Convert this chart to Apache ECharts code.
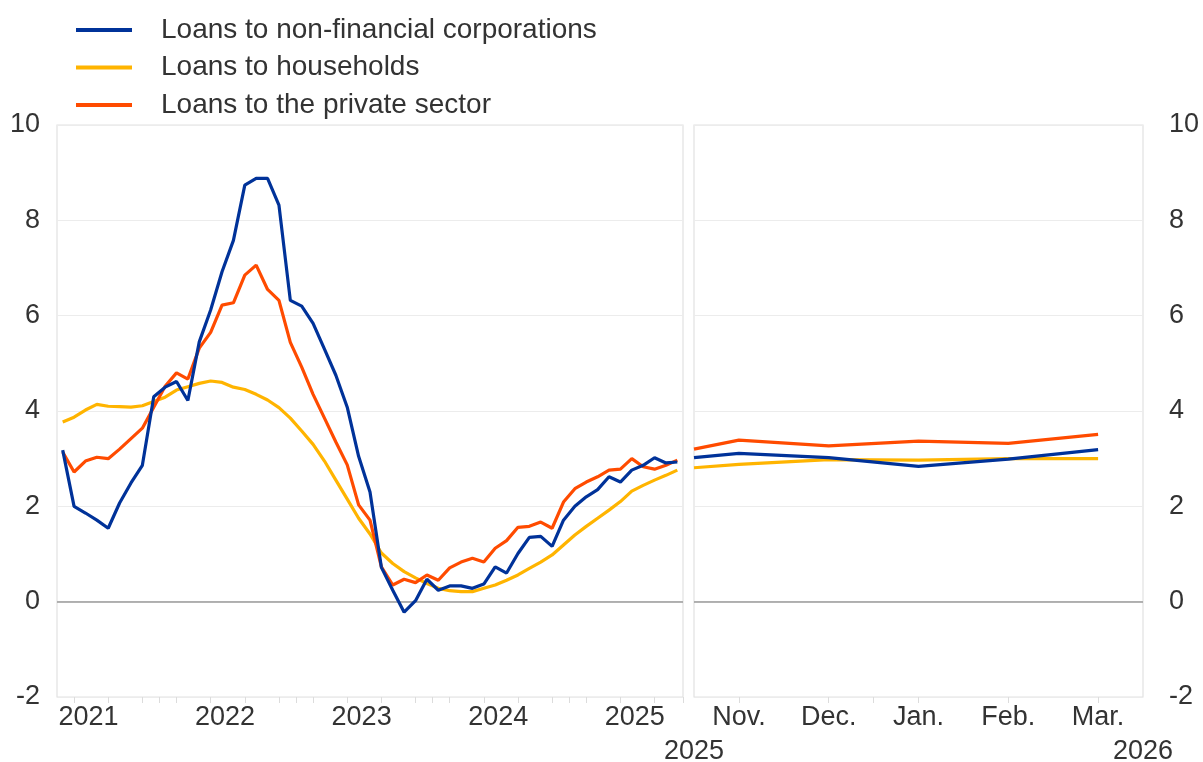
<!DOCTYPE html>
<html>
<head>
<meta charset="utf-8">
<script src="https://cdn.jsdelivr.net/npm/echarts@6/dist/echarts.min.js"></script>
<style>
  html, body { margin: 0; padding: 0; background: #fff; }
  #chart { width: 1203px; height: 762px; }
</style>
</head>
<body>
<div id="chart"></div>
<script>
// ---------- data ----------
const seriesNames = ['Loans to non-financial corporations', 'Loans to households', 'Loans to the private sector'];

// Left panel: monthly, Apr 2021 – Oct 2025
const leftMonths = [
  '2021-04','2021-05','2021-06','2021-07','2021-08','2021-09','2021-10','2021-11','2021-12',
  '2022-01','2022-02','2022-03','2022-04','2022-05','2022-06','2022-07','2022-08','2022-09','2022-10','2022-11','2022-12',
  '2023-01','2023-02','2023-03','2023-04','2023-05','2023-06','2023-07','2023-08','2023-09','2023-10','2023-11','2023-12',
  '2024-01','2024-02','2024-03','2024-04','2024-05','2024-06','2024-07','2024-08','2024-09','2024-10','2024-11','2024-12',
  '2025-01','2025-02','2025-03','2025-04','2025-05','2025-06','2025-07','2025-08','2025-09','2025-10'
];

const nfcLeft = [
  3.18, 2.00, 1.86, 1.71, 1.54, 2.07, 2.49, 2.86, 4.30,
  4.50, 4.62, 4.22, 5.45, 6.12, 6.92, 7.58, 8.74, 8.88, 8.88, 8.32, 6.32,
  6.20, 5.84, 5.30, 4.75, 4.08, 3.05, 2.30, 0.72, 0.24, -0.22, 0.02, 0.47,
  0.24, 0.33, 0.33, 0.28, 0.37, 0.73, 0.60, 1.01, 1.35, 1.37, 1.16, 1.71,
  2.00, 2.20, 2.35, 2.62, 2.51, 2.76, 2.86, 3.02, 2.91, 2.93
];
const hhLeft = [
  3.77, 3.87, 4.02, 4.14, 4.10, 4.09, 4.08, 4.11, 4.20,
  4.29, 4.44, 4.51, 4.58, 4.63, 4.60, 4.50, 4.45, 4.35, 4.23, 4.07, 3.85,
  3.58, 3.30, 2.95, 2.55, 2.15, 1.75, 1.42, 1.02, 0.80, 0.63, 0.50, 0.38,
  0.28, 0.23, 0.21, 0.21, 0.28, 0.35, 0.45, 0.56, 0.70, 0.83, 0.98, 1.19,
  1.40, 1.58, 1.75, 1.92, 2.10, 2.32, 2.44, 2.55, 2.65, 2.76
];
const pslLeft = [
  3.14, 2.72, 2.95, 3.03, 3.00, 3.20, 3.42, 3.64, 4.08,
  4.52, 4.80, 4.67, 5.32, 5.65, 6.22, 6.27, 6.85, 7.06, 6.55, 6.32, 5.44,
  4.92, 4.35, 3.85, 3.35, 2.87, 2.03, 1.71, 0.73, 0.35, 0.47, 0.40, 0.56,
  0.45, 0.71, 0.83, 0.91, 0.83, 1.12, 1.28, 1.56, 1.58, 1.67, 1.54, 2.09,
  2.37, 2.51, 2.62, 2.76, 2.78, 3.00, 2.83, 2.78, 2.86, 2.97
];

// Right panel: Oct 2025 (start) then Nov 2025 – Mar 2026
const rightMonths = ['Oct.', 'Nov.', 'Dec.', 'Jan.', 'Feb.', 'Mar.'];
const rightYears = ['2025', '2026'];
const nfcRight = [3.02, 3.11, 3.02, 2.84, 2.99, 3.19];
const hhRight  = [2.81, 2.88, 2.98, 2.97, 3.00, 3.00];
const pslRight = [3.20, 3.39, 3.27, 3.37, 3.32, 3.51];

const yTicks = { min: -2, max: 10, interval: 2 };

// ---------- helpers ----------
// Right panel uses half-month slots: slot 0 = start point at left edge, months at odd slots
const rightSlots = ['start'];
rightMonths.slice(1).forEach((m, i) => { rightSlots.push(m); rightSlots.push(i < rightMonths.length - 2 ? 'mid' + i : 'end'); });
function toSlots(vals) {
  const out = [vals[0]];
  vals.slice(1).forEach(v => { out.push(v); out.push(null); });
  return out;
}
const lastSlot = rightSlots.length - 1;
// mid slot between Dec. and Jan. is the year boundary
const yearBoundarySlot = rightSlots.indexOf('Jan.') - 1;

const colors = ['#003299', '#ffb400', '#ff4b00'];
const FONT = 'Liberation Sans, Arial, Helvetica, sans-serif';
const TXT = '#333';
const FS = 27;

const chart = echarts.init(document.getElementById('chart'), null, { renderer: 'canvas' });

function lineSeries(name, data, xi, yi, color, z) {
  return {
    name, type: 'line', data, xAxisIndex: xi, yAxisIndex: yi,
    symbol: 'none', connectNulls: true, z,
    lineStyle: { color, width: 3.2 }, itemStyle: { color },
    emphasis: { disabled: true }, animation: false
  };
}
function zeroLine(xi, yi) {
  return {
    type: 'line', data: [], xAxisIndex: xi, yAxisIndex: yi, z: 1,
    markLine: {
      silent: true, symbol: 'none', animation: false,
      label: { show: false },
      lineStyle: { color: '#9a9a9a', width: 1.5, type: 'solid' },
      data: [{ yAxis: 0 }]
    }
  };
}

const yCommon = {
  type: 'value', min: yTicks.min, max: yTicks.max, interval: yTicks.interval,
  axisLine: { show: false }, axisTick: { show: false },
  splitLine: { show: true, lineStyle: { color: '#ececec', width: 1.2 } },
  axisLabel: { color: TXT, fontSize: FS, fontFamily: FONT }
};

const option = {
  backgroundColor: '#fff',
  animation: false,
  color: colors,
  legend: {
    data: seriesNames,
    orient: 'vertical', left: 71, top: 10,
    itemWidth: 56, itemHeight: 4, itemGap: 7.5,
    icon: 'rect',
    textStyle: { color: TXT, fontSize: 28, fontFamily: FONT, lineHeight: 30, padding: [0, 0, 0, 24] },
    selectedMode: false
  },
  grid: [
    { left: 57, right: 520, top: 125, bottom: 65, show: true, borderColor: '#e2e2e2', borderWidth: 1.2,
      containLabel: false, outerBoundsMode: 'none' },
    { left: 694, right: 60, top: 125, bottom: 65, show: true, borderColor: '#e2e2e2', borderWidth: 1.2,
      containLabel: false, outerBoundsMode: 'none' }
  ],
  xAxis: [
    {
      type: 'category', gridIndex: 0, data: leftMonths, boundaryGap: true, position: 'bottom',
      axisLine: { show: false, onZero: false },
      axisTick: { show: true, alignWithLabel: true, length: 6, lineStyle: { color: '#dcdcdc' },
        interval: (i, v) => ['02', '05', '08', '11'].includes(v.slice(5)) },
      axisLabel: { color: TXT, fontSize: FS, fontFamily: FONT, margin: 7, padding: [0, 0, 0, 6],
        interval: (i, v) => v.slice(5) === '06', formatter: v => v.slice(0, 4) }
    },
    {
      type: 'category', gridIndex: 0, data: leftMonths, boundaryGap: true, position: 'bottom', offset: 0,
      axisLine: { show: false, onZero: false },
      axisTick: { show: true, alignWithLabel: false, length: 6, lineStyle: { color: '#dcdcdc' },
        interval: (i, v) => v.slice(5) === '01' },
      axisLabel: { show: false }, splitLine: { show: false }
    },
    {
      type: 'category', gridIndex: 1, data: rightSlots, boundaryGap: false, position: 'bottom',
      axisLine: { show: false, onZero: false },
      axisTick: { show: true, length: 6, lineStyle: { color: '#dcdcdc' },
        interval: (i) => i % 2 === 1 || i === yearBoundarySlot },
      axisLabel: { color: TXT, fontSize: FS, fontFamily: FONT, margin: 7,
        interval: (i) => i % 2 === 1 }
    },
    {
      type: 'category', gridIndex: 1, data: rightSlots, boundaryGap: false, position: 'bottom', offset: 0,
      axisLine: { show: false, onZero: false },
      axisTick: { show: false }, splitLine: { show: false },
      axisLabel: { color: TXT, fontSize: FS, fontFamily: FONT, margin: 41,
        showMinLabel: true, showMaxLabel: true,
        interval: (i) => i === 0 || i === lastSlot,
        formatter: (v, i) => i === 0 ? rightYears[0] : rightYears[1] }
    }
  ],
  yAxis: [
    Object.assign({}, yCommon, { gridIndex: 0, position: 'left',
      axisLabel: Object.assign({}, yCommon.axisLabel, { margin: 17 }) }),
    Object.assign({}, yCommon, { gridIndex: 1, position: 'right',
      axisLabel: Object.assign({}, yCommon.axisLabel, { margin: 26 }) })
  ],
  series: [
    zeroLine(0, 0),
    zeroLine(2, 1),
    lineSeries(seriesNames[1], hhLeft, 0, 0, colors[1], 3),
    lineSeries(seriesNames[2], pslLeft, 0, 0, colors[2], 4),
    lineSeries(seriesNames[0], nfcLeft, 0, 0, colors[0], 5),
    lineSeries(seriesNames[1], toSlots(hhRight), 2, 1, colors[1], 3),
    lineSeries(seriesNames[2], toSlots(pslRight), 2, 1, colors[2], 4),
    lineSeries(seriesNames[0], toSlots(nfcRight), 2, 1, colors[0], 5)
  ]
};
chart.setOption(option);
</script>
</body>
</html>
